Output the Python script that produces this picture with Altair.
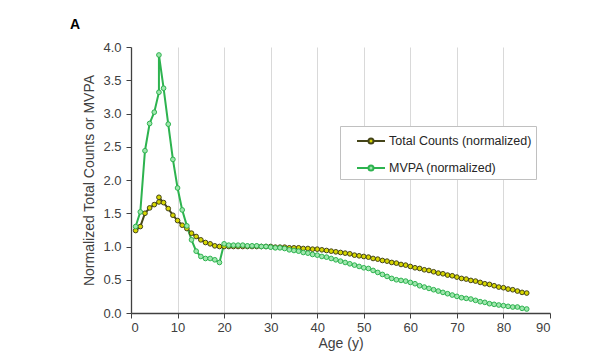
import altair as alt
import pandas as pd

# ---- data ----
series_names = ["Total Counts (normalized)", "MVPA (normalized)"]

# preschool group (ages 1-6)
ages_young = [1, 2, 3, 4, 5, 6]
total_young = [1.24, 1.30, 1.50, 1.58, 1.63, 1.67]
mvpa_young = [1.30, 1.52, 2.44, 2.85, 3.02, 3.32]

# main group (ages 6-85)
ages_main = list(range(6, 86))
total_main = [
    1.74, 1.66, 1.57, 1.47, 1.39, 1.32, 1.27, 1.20, 1.15, 1.10,   # 6-15
    1.06, 1.04, 1.01, 1.00, 1.00, 1.00, 1.00, 1.00, 1.00, 1.00,   # 16-25
    1.00, 1.00, 1.00, 1.00, 1.00, 0.99, 0.99, 0.99, 0.98, 0.98,   # 26-35
    0.98, 0.97, 0.97, 0.96, 0.96, 0.95, 0.94, 0.93, 0.92, 0.91,   # 36-45
    0.90, 0.89, 0.87, 0.86, 0.85, 0.84, 0.82, 0.81, 0.79, 0.78,   # 46-55
    0.76, 0.75, 0.73, 0.72, 0.70, 0.68, 0.67, 0.65, 0.64, 0.62,   # 56-65
    0.60, 0.59, 0.57, 0.56, 0.54, 0.52, 0.51, 0.49, 0.48, 0.46,   # 66-75
    0.44, 0.43, 0.41, 0.39, 0.38, 0.36, 0.35, 0.33, 0.31, 0.30,   # 76-85
]
mvpa_main = [
    3.88, 3.38, 2.84, 2.31, 1.88, 1.55, 1.31, 1.10, 0.93, 0.85,   # 6-15
    0.82, 0.82, 0.80, 0.76, 1.04, 1.02, 1.02, 1.02, 1.02, 1.01,   # 16-25
    1.01, 1.01, 1.00, 1.00, 0.99, 0.98, 0.98, 0.97, 0.95, 0.94,   # 26-35
    0.93, 0.91, 0.90, 0.88, 0.87, 0.85, 0.84, 0.82, 0.80, 0.78,   # 36-45
    0.76, 0.74, 0.72, 0.70, 0.68, 0.67, 0.64, 0.61, 0.58, 0.55,   # 46-55
    0.52, 0.50, 0.49, 0.48, 0.46, 0.44, 0.41, 0.39, 0.37, 0.35,   # 56-65
    0.33, 0.31, 0.29, 0.27, 0.25, 0.23, 0.22, 0.21, 0.19, 0.17,   # 66-75
    0.16, 0.14, 0.13, 0.12, 0.11, 0.10, 0.09, 0.09, 0.07, 0.06,   # 76-85
]

x_ticks = [0, 10, 20, 30, 40, 50, 60, 70, 80, 90]
y_ticks = [0.0, 0.5, 1.0, 1.5, 2.0, 2.5, 3.0, 3.5, 4.0]

line_colors = ["#45451a", "#2db34f"]
fill_colors = ["#d6d600", "#9fe6ad"]

rows = []
for name, young, main in [
    (series_names[0], total_young, total_main),
    (series_names[1], mvpa_young, mvpa_main),
]:
    ages = ages_young + ages_main
    vals = young + main
    for i, (a, v) in enumerate(zip(ages, vals)):
        rows.append({"series": name, "age": a, "value": v, "idx": i})
df = pd.DataFrame(rows)

FONT = "Liberation Sans"

x_enc = alt.X(
    "age:Q",
    scale=alt.Scale(domain=[0, 90], nice=False),
    axis=alt.Axis(
        values=x_ticks,
        title="Age (y)",
        grid=True,
        gridColor={"condition": {"test": "datum.value === 0 || datum.value === 90",
                                 "value": "transparent"}, "value": "#d9d9d9"},
    ),
)
y_enc = alt.Y(
    "value:Q",
    scale=alt.Scale(domain=[0, 4], nice=False),
    axis=alt.Axis(values=y_ticks, format=".1f", title="Normalized Total Counts or MVPA",
                  grid=False, labelPadding=5),
)

stroke_scale = alt.Scale(domain=series_names, range=line_colors)
fill_scale = alt.Scale(domain=series_names, range=fill_colors)

legend_kw = dict(
    title=None,
    orient="none",
    legendX=209,
    legendY=79,
    symbolType="M-1.4,0L-0.25,0M0.25,0L1.4,0M-0.25,0A0.25,0.25,0,1,1,0.25,0A0.25,0.25,0,1,1,-0.25,0Z",
    symbolSize=400,
    symbolStrokeWidth=2,
    symbolOffset=16,
    labelOffset=7,
    padding=4,
    rowPadding=9,
    labelFont=FONT,
    labelFontSize=12.5,
    labelColor="#262626",
    labelExpr="datum.label + '\u00a0\u00a0\u00a0'",
    strokeColor="#c0c0c0",
    fillColor="white",
)

lines = alt.Chart(df).mark_line(strokeWidth=2).encode(
    x=x_enc,
    y=y_enc,
    stroke=alt.Stroke("series:N", scale=stroke_scale, legend=alt.Legend(**legend_kw)),
    detail="series:N",
    order="idx:Q",
)

points = alt.Chart(df).mark_point(shape="circle", filled=True, size=22, strokeWidth=1,
                                  opacity=1).encode(
    x=x_enc,
    y=y_enc,
    fill=alt.Fill("series:N", scale=fill_scale, legend=alt.Legend(**legend_kw)),
    stroke=alt.Stroke("series:N", scale=stroke_scale, legend=None),
)

chart = (
    alt.layer(lines, points)
    .properties(
        width=419,
        height=266,
        background="white",
        autosize=alt.AutoSizeParams(type="none"),
        padding={"left": 131, "top": 47, "right": 50, "bottom": 44},
        title=alt.TitleParams(
            "A", anchor="start", frame="group", dx=-61, offset=-2, baseline="alphabetic",
            fontSize=14, fontWeight="bold", font=FONT, color="black",
        ),
    )
    .configure_view(stroke=None)
    .configure_axis(
        labelFont=FONT,
        titleFont=FONT,
        labelFontSize=13,
        titleFontSize=14,
        titleFontWeight="normal",
        labelColor="#404040",
        titleColor="#404040",
        domainColor="#404040",
        tickColor="#404040",
        domainWidth=1.3,
        tickSize=5,
        labelPadding=3,
    )
    .configure_axisX(titlePadding=2)
    .configure_axisY(titlePadding=6)
)

chart.save("out.html", embed_options={"renderer": "svg", "actions": False})
